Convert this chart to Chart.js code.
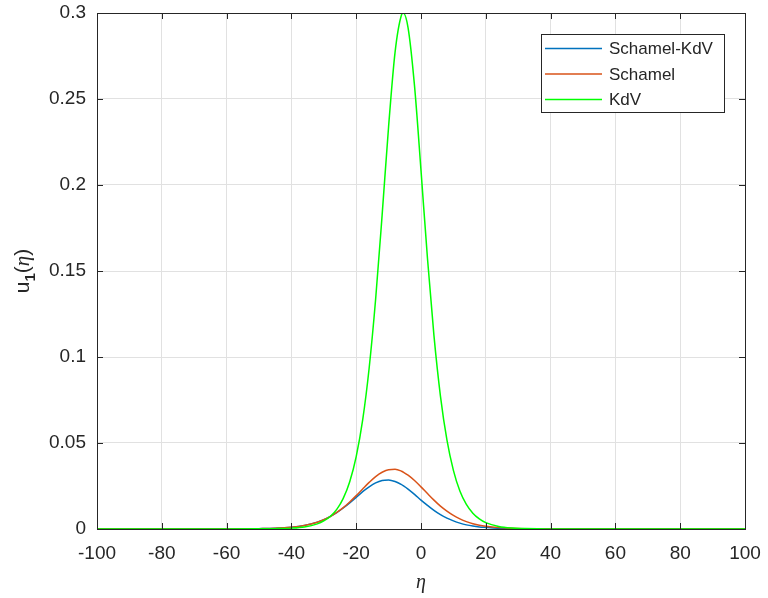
<!DOCTYPE html>
<html>
<head>
<meta charset="utf-8">
<script src="https://cdn.jsdelivr.net/npm/chart.js@4.4.1/dist/chart.umd.min.js"></script>
<style>
  html, body { margin: 0; padding: 0; background: #fff; }
  #wrap { width: 768px; height: 598px; }
</style>
</head>
<body>
<div id="wrap"><canvas id="solitonChart" width="768" height="598"></canvas></div>
<script>
// eta samples
const eta = [-100, -60, -50, -45, -40, -36, -32, -30, -28, -26, -24, -22, -20, -18, -16, -14, -12, -10, -8, -6, -5.5,
  -4, -2, 0, 2, 4, 6, 8, 10, 12, 14, 16, 18, 20, 24, 28, 32, 36, 40, 50, 60, 100];

const schamelKdv = [0, 0, 0.0002, 0.0004, 0.0010, 0.0021, 0.0040, 0.0054, 0.0073, 0.0095, 0.0122, 0.0152, 0.0184, 0.0217,
  0.0245, 0.0268, 0.0282, 0.0285, 0.0276, 0.0258, 0.0252, 0.0232, 0.0201, 0.0168, 0.0137, 0.0108, 0.0083, 0.0063,
  0.0047, 0.0034, 0.0024, 0.0017, 0.0012, 0.0009, 0.0004, 0.0002, 0.0001, 0, 0, 0, 0, 0];

const schamel = [0, 0, 0.0002, 0.0004, 0.0010, 0.0020, 0.0039, 0.0054, 0.0072, 0.0096, 0.0124, 0.0157, 0.0194, 0.0233,
  0.0271, 0.0305, 0.0330, 0.0345, 0.0347, 0.0336, 0.0331, 0.0313, 0.0282, 0.0245, 0.0206, 0.0168, 0.0133, 0.0104,
  0.0079, 0.0059, 0.0043, 0.0031, 0.0022, 0.0016, 0.0008, 0.0004, 0.0002, 0.0001, 0, 0, 0, 0];

const kdv = [0, 0, 0.0001, 0.0002, 0.0005, 0.0012, 0.0030, 0.0047, 0.0073, 0.0114, 0.0178, 0.0275, 0.0421, 0.0634,
  0.0936, 0.1337, 0.1825, 0.2340, 0.2773, 0.2990, 0.3000, 0.2915, 0.2576, 0.2085, 0.1573, 0.1124, 0.0773, 0.0518,
  0.0341, 0.0221, 0.0143, 0.0092, 0.0059, 0.0037, 0.0015, 0.0006, 0.0003, 0.0001, 0, 0, 0, 0];

const seriesNames = ['Schamel-KdV', 'Schamel', 'KdV'];
const xTicks = [-100, -80, -60, -40, -20, 0, 20, 40, 60, 80, 100];
const yTicks = [0, 0.05, 0.1, 0.15, 0.2, 0.25, 0.3];
const yTickLabels = ['0', '0.05', '0.1', '0.15', '0.2', '0.25', '0.3'];

const axisColor = '#262626';
const gridColor = '#e1e1e1';
const font = 'Liberation Sans, Arial, sans-serif';

const toPoints = arr => eta.map((x, i) => ({ x: x, y: arr[i] }));

// frame, inward ticks, axis titles and legend the MATLAB way
const matlabLook = {
  id: 'matlabLook',
  afterDraw(chart) {
    const { ctx, chartArea: a, scales: { x, y } } = chart;
    ctx.save();
    ctx.strokeStyle = axisColor;
    ctx.lineWidth = 1;
    ctx.strokeRect(Math.round(a.left) + 0.5, Math.round(a.top) + 0.5,
      Math.round(a.right - a.left), Math.round(a.bottom - a.top));

    ctx.beginPath();
    xTicks.forEach(v => {
      const px = Math.round(x.getPixelForValue(v)) + 0.5;
      ctx.moveTo(px, a.bottom); ctx.lineTo(px, a.bottom - 6);
      ctx.moveTo(px, a.top); ctx.lineTo(px, a.top + 6);
    });
    yTicks.forEach(v => {
      const py = Math.round(y.getPixelForValue(v)) + 0.5;
      ctx.moveTo(a.left, py); ctx.lineTo(a.left + 6, py);
      ctx.moveTo(a.right, py); ctx.lineTo(a.right - 6, py);
    });
    ctx.stroke();

    // x title
    ctx.fillStyle = axisColor;
    ctx.textAlign = 'center';
    ctx.textBaseline = 'alphabetic';
    ctx.font = 'italic 20px "Liberation Serif", serif';
    ctx.fillText('η', (a.left + a.right) / 2, 588);

    // y title u_1(eta), rotated
    ctx.translate(29, (a.top + a.bottom) / 2);
    ctx.rotate(-Math.PI / 2);
    ctx.textAlign = 'left';
    const parts = [
      { t: 'u', f: '21px ' + font, dy: 0 },
      { t: '1', f: 'bold 15px ' + font, dy: 6 },
      { t: '(', f: '21px ' + font, dy: 0 },
      { t: 'η', f: 'italic 21px "Liberation Serif", serif', dy: 0 },
      { t: ')', f: '21px ' + font, dy: 0 }
    ];
    let total = 0;
    parts.forEach(p => { ctx.font = p.f; p.w = ctx.measureText(p.t).width; total += p.w; });
    let cx = -total / 2;
    parts.forEach(p => { ctx.font = p.f; ctx.fillText(p.t, cx, p.dy); cx += p.w; });
    ctx.setTransform(1, 0, 0, 1, 0, 0);

    // legend
    const bx = a.right - 204, by = a.top + 21, bw = 183, bh = 78;
    ctx.fillStyle = '#fff';
    ctx.fillRect(bx, by, bw, bh);
    ctx.strokeStyle = axisColor;
    ctx.strokeRect(bx + 0.5, by + 0.5, bw, bh);
    ctx.font = '17px ' + font;
    ctx.textBaseline = 'middle';
    ctx.textAlign = 'left';
    chart.data.datasets.forEach((ds, i) => {
      const ly = by + 14.5 + i * 25.5;
      ctx.strokeStyle = ds.borderColor;
      ctx.lineWidth = 1.3;
      ctx.beginPath();
      ctx.moveTo(bx + 4, ly); ctx.lineTo(bx + 61, ly);
      ctx.stroke();
      ctx.fillStyle = axisColor;
      ctx.fillText(ds.label, bx + 68, ly + 1);
    });
    ctx.restore();
  }
};

const ctx = document.getElementById('solitonChart').getContext('2d');
const chart = new Chart(ctx, {
  type: 'line',
  data: {
    datasets: [
      { label: seriesNames[0], data: toPoints(schamelKdv), borderColor: '#0072BD', order: 3 },
      { label: seriesNames[1], data: toPoints(schamel), borderColor: '#D95319', order: 2 },
      { label: seriesNames[2], data: toPoints(kdv), borderColor: '#00FF00', order: 1 }
    ]
  },
  options: {
    responsive: false,
    animation: false,
    events: [],
    datasets: {
      line: { borderWidth: 1.5, pointRadius: 0, fill: false, cubicInterpolationMode: 'monotone' }
    },
    layout: { padding: { left: 0, top: 13, right: 23, bottom: 0 } },
    plugins: { legend: { display: false }, tooltip: { enabled: false } },
    scales: {
      x: {
        type: 'linear',
        min: -100, max: 100,
        afterFit: s => { s.height = 69; s.paddingLeft = 0; s.paddingRight = 0; },
        afterBuildTicks: s => { s.ticks = xTicks.map(v => ({ value: v })); },
        grid: { color: gridColor, drawTicks: false },
        border: { display: false },
        ticks: {
          color: axisColor, padding: 13, maxRotation: 0,
          font: { family: font, size: 19 },
          callback: v => String(v)
        }
      },
      y: {
        type: 'linear',
        min: 0, max: 0.3,
        afterFit: s => { s.width = 97; s.paddingTop = 0; s.paddingBottom = 0; },
        afterBuildTicks: s => { s.ticks = yTicks.map(v => ({ value: v })); },
        grid: { color: gridColor, drawTicks: false },
        border: { display: false },
        ticks: {
          color: axisColor, padding: 11,
          font: { family: font, size: 19 },
          callback: (v, i) => yTickLabels[i]
        }
      }
    }
  },
  plugins: [matlabLook]
});
</script>
</body>
</html>
